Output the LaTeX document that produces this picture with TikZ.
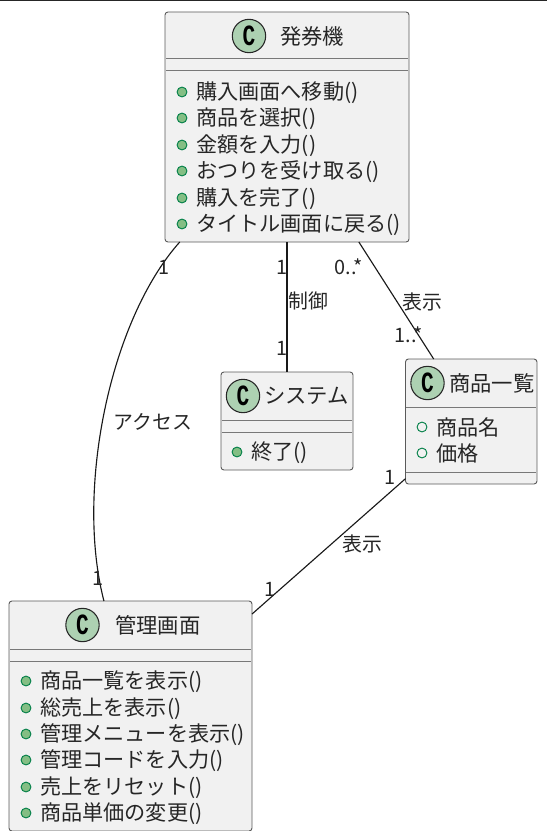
\documentclass[tikz,border=0pt]{standalone}
\usepackage{fontspec}
\setmainfont{Noto Sans CJK JP}
\newfontfamily\spotfont[FakeStretch=0.72]{Liberation Mono}
\definecolor{boxfill}{RGB}{241,241,241}
\definecolor{boxline}{RGB}{90,90,90}
\definecolor{rowgrey}{RGB}{120,120,120}
\definecolor{spotfill}{RGB}{173,209,178}
\definecolor{dotfill}{RGB}{132,190,132}
\definecolor{dotline}{RGB}{3,128,72}
\tikzset{
  classbox/.style={draw=boxline,fill=boxfill,rounded corners=2.2pt,line width=0.7pt,outer sep=0pt,inner sep=0pt},
  spot/.style={circle,draw=black!85,fill=spotfill,line width=0.8pt,minimum size=25pt,inner sep=0pt,font=\spotfont\bfseries\fontsize{22}{22}\selectfont},
  headtext/.style={anchor=west,inner sep=0pt,text=black!85,font=\fontsize{16}{18}\selectfont},
  membertext/.style={anchor=west,inner sep=0pt,yshift=-0.6pt,text=black!85,font=\fontsize{15.85}{18}\selectfont},
  linktext/.style={inner sep=0pt,text=black!85,font=\fontsize{14.9}{16}\selectfont},
  method/.style={circle,draw=dotline,fill=dotfill,line width=0.7pt,minimum size=7.4pt,inner sep=0pt},
  field/.style={circle,draw=dotline,fill=none,line width=0.7pt,minimum size=7.4pt,inner sep=0pt},
  rowline/.style={draw=rowgrey,line width=0.75pt},
  link/.style={draw=black!90,line width=0.85pt}
}
\begin{document}
\begin{tikzpicture}[x=0.75pt,y=0.75pt,yscale=-1,xscale=1]
\useasboundingbox (0,0) rectangle (547,831);

%Top rule
\draw [line width=1.4pt,black!85] (0,0) -- (547,0);

%Class boxes
\node [classbox,minimum width=183pt,minimum height=172.5pt] (hakkenki) at (287,127) {};
\node [classbox,minimum width=99pt,minimum height=73.5pt] (system) at (287,421) {};
\node [classbox,minimum width=98.6pt,minimum height=93.75pt] (shohin) at (471.25,421.5) {};
\node [classbox,minimum width=182.25pt,minimum height=172.5pt] (kanri) at (130.5,716) {};

%Dividers
\foreach \xa/\xb/\yy in {166/408/59,166/408/71,222/352/420,222/352/432,406/536/407,406/536/472,10/251/649,10/251/661}
  \draw [rowline] (\xa,\yy) -- (\xb,\yy);

%Class headers
\node [spot] (hakkenkispot) at (249,36) {C};
\node [headtext] (hakkenkiname) at (280,36) {発券機};
\node [spot] (systemspot) at (243,396) {C};
\node [headtext] (systemname) at (264,396) {システム};
\node [spot] (shohinspot) at (427.5,383) {C};
\node [headtext] (shohinname) at (449,383) {商品一覧};
\node [spot] (kanrispot) at (82.5,625) {C};
\node [headtext] (kanriname) at (115,625) {管理画面};

%Members
\foreach \txt/\yy [count=\i] in {購入画面へ移動()/92,商品を選択()/118,金額を入力()/145,おつりを受け取る()/171,購入を完了()/198,タイトル画面に戻る()/224}{
  \node [method] (hakkenkidot\i) at (182,\yy) {};
  \node [membertext] (hakkenkirow\i) at (196,\yy) {\txt};
}
\node [method] (systemdot1) at (237,452) {};
\node [membertext] (systemrow1) at (251,452) {終了()};
\foreach \txt/\yy [count=\i] in {商品名/427,価格/453}{
  \node [field] (shohindot\i) at (422,\yy) {};
  \node [membertext] (shohinrow\i) at (436,\yy) {\txt};
}
\foreach \txt/\yy [count=\i] in {商品一覧を表示()/681,総売上を表示()/708,管理メニューを表示()/734,管理コードを入力()/760,売上をリセット()/787,商品単価の変更()/813}{
  \node [method] (kanridot\i) at (26,\yy) {};
  \node [membertext] (kanrirow\i) at (40,\yy) {\txt};
}

%Connectors
\draw [link] (hakkenki.south) -- (system.north);
\draw [link] (hakkenki.-58.3) -- (shohin.121.3);
\draw [link] (shohin.221.6) -- (kanri.40.8);
\draw [link] (hakkenki.-133.5) .. controls (110,320) and (75,490) .. (kanri.103);

%Connector labels
\node [linktext] (acccess) at (153,422) {アクセス};
\node [linktext] (acone) at (164,267) {1};
\node [linktext] (actwo) at (98,578) {1};
\node [linktext] (ctrl) at (308,301) {制御};
\node [linktext] (ctrlone) at (282,267) {1};
\node [linktext] (ctrltwo) at (282,348) {1};
\node [linktext] (showa) at (422,302) {表示};
\node [linktext] (showaone) at (349,267) {0..*};
\node [linktext] (showatwo) at (409,335) {1..*};
\node [linktext] (showb) at (362,544) {表示};
\node [linktext] (showbone) at (390,477) {1};
\node [linktext] (showbtwo) at (270,589) {1};
\end{tikzpicture}
\end{document}
